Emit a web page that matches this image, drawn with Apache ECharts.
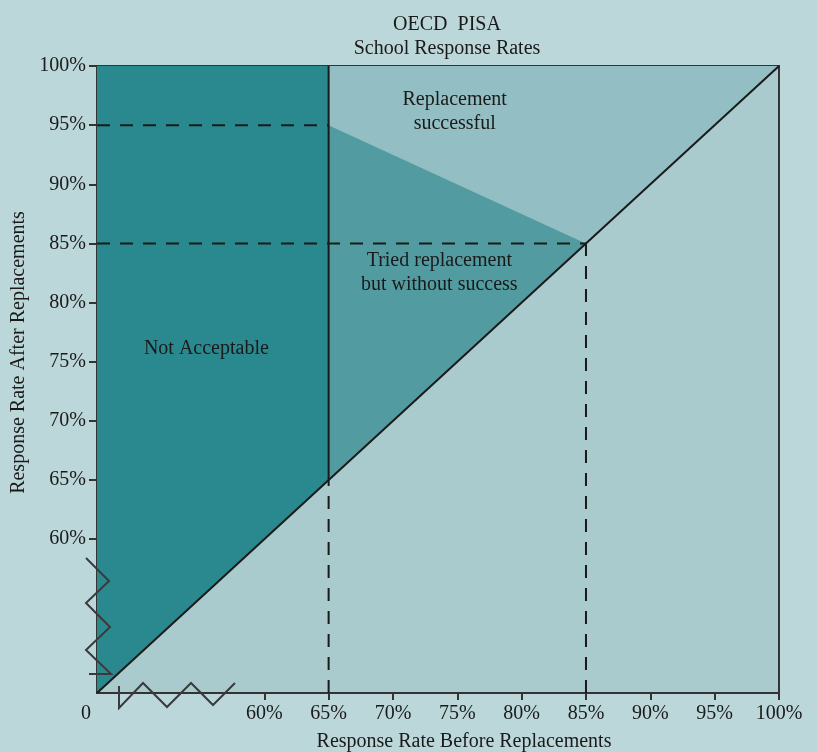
<!DOCTYPE html>
<html>
<head>
<meta charset="utf-8">
<script src="https://cdn.jsdelivr.net/npm/echarts@6/dist/echarts.min.js"></script>
<style>
html,body{margin:0;padding:0;background:#bcd7da;}
#main{width:817px;height:752px;}
</style>
</head>
<body>
<div id="main"></div>
<script>
// ---- data ----
const axisMin = 47;             // value at the (broken) origin
const axisMax = 100;
const xTicks = [60, 65, 70, 75, 80, 85, 90, 95, 100];
const yTicks = [60, 65, 70, 75, 80, 85, 90, 95, 100];
const minBefore = 65;           // minimum acceptable rate before replacement
const okBefore = 85;            // fully acceptable rate before replacement
const okAfterAtMin = 95;        // required rate after replacement when before = 65
const okAfter = 85;             // required rate after replacement when before = 85
const regionNames = ['Not Acceptable', 'Replacement successful', 'Tried replacement but without success'];
const regionColors = ['#2a898f', '#93bfc4', '#529ca1'];
const regionPolys = [
  [[axisMin, axisMin], [axisMin, axisMax], [minBefore, axisMax], [minBefore, minBefore]],
  [[minBefore, axisMax], [axisMax, axisMax], [okBefore, okAfter], [minBefore, okAfterAtMin]],
  [[minBefore, okAfterAtMin], [okBefore, okAfter], [minBefore, minBefore]]
];
const labelTexts = ['Not Acceptable', 'Replacement\nsuccessful', 'Tried replacement\nbut without success'];
const labelPos = [[55.5, 76.1], [74.8, 96.1], [73.6, 82.5]];

const ink = '#1a1a1a';
const font = '"Liberation Serif", "DejaVu Serif", serif';
const fs = 20;

const chart = echarts.init(document.getElementById('main'), null, {renderer: 'canvas'});

function lineSeries(data, dashed) {
  return {
    type: 'line', data: data, symbol: 'none', silent: true, z: 5,
    lineStyle: {color: ink, width: 2, type: dashed ? [13, 10] : 'solid'}
  };
}

const option = {
  backgroundColor: '#bcd7da',
  animation: false,
  title: {
    text: 'OECD  PISA\nSchool Response Rates',
    left: 442, top: 8, textAlign: 'center',
    textStyle: {fontFamily: font, fontSize: fs, fontWeight: 'normal', color: ink, lineHeight: 24}
  },
  grid: {
    left: 97, top: 66, right: 38, bottom: 59,
    outerBoundsMode: 'none', containLabel: false,
    show: true, backgroundColor: '#a9cbce', borderColor: '#333', borderWidth: 2
  },
  xAxis: {
    type: 'value', min: axisMin, max: axisMax,
    name: 'Response Rate Before Replacements', nameLocation: 'middle', nameGap: 39,
    nameTextStyle: {fontFamily: font, fontSize: fs, color: ink, padding: [0, 0, 0, 52]},
    axisLine: {show: true, lineStyle: {color: '#333', width: 2}},
    axisTick: {show: true, customValues: xTicks, length: 7, lineStyle: {color: '#333', width: 2}},
    axisLabel: {customValues: xTicks, formatter: v => v + '%', fontFamily: font, fontSize: fs, color: ink, margin: 11},
    splitLine: {show: false}
  },
  yAxis: {
    type: 'value', min: axisMin, max: axisMax,
    name: 'Response Rate After Replacements', nameLocation: 'middle', nameGap: 67, nameRotate: 90,
    nameTextStyle: {fontFamily: font, fontSize: fs, color: ink, padding: [0, 0, 0, 54]},
    axisLine: {show: true, lineStyle: {color: '#333', width: 2}},
    axisTick: {show: true, customValues: yTicks, length: 8, lineStyle: {color: '#333', width: 2}},
    axisLabel: {customValues: yTicks, formatter: v => v + '%', fontFamily: font, fontSize: fs, color: ink, margin: 11},
    splitLine: {show: false}
  },
  series: [
    {
      type: 'custom', silent: true, z: 1,
      data: regionPolys.map((p, i) => ({name: regionNames[i], value: [i]})),
      encode: {x: [], y: []},
      renderItem: function (params, api) {
        const i = params.dataIndex;
        return {
          type: 'polygon',
          shape: {points: regionPolys[i].map(p => api.coord(p))},
          style: {fill: regionColors[i], stroke: null}
        };
      }
    },
    lineSeries([[axisMin, okAfterAtMin], [minBefore, okAfterAtMin]], true),
    lineSeries([[axisMin, okAfter], [okBefore, okAfter]], true),
    lineSeries([[minBefore, axisMin], [minBefore, minBefore]], true),
    lineSeries([[okBefore, axisMin], [okBefore, okAfter]], true),
    lineSeries([[minBefore, minBefore], [minBefore, axisMax]], false),
    lineSeries([[axisMin, axisMin], [axisMax, axisMax]], false),
    {
      type: 'scatter', symbolSize: 0, silent: true, z: 6,
      data: labelPos.map((p, i) => ({value: p, label: {formatter: labelTexts[i]}})),
      label: {show: true, position: 'inside', fontFamily: font, fontSize: fs, lineHeight: 24, color: ink, opacity: 1}
    }
  ]
};
chart.setOption(option);

// axis-break marks and origin label, placed relative to the origin pixel
const o = chart.convertToPixel({gridIndex: 0}, [axisMin, axisMin]);
const yBreak = [[-11, -135], [12, -112], [-11, -90], [13, -66], [-11, -43], [14, -19], [-8, -19]];
const xBreak = [[22, -7], [22, 15], [46, -10], [70, 14], [94, -10], [116, 12], [138, -10]];
chart.setOption({
  graphic: [
    {type: 'polyline', z: 20, shape: {points: yBreak.map(p => [o[0] + p[0], o[1] + p[1]])},
     style: {stroke: '#3a3a3a', lineWidth: 2, fill: null}},
    {type: 'polyline', z: 20, shape: {points: xBreak.map(p => [o[0] + p[0], o[1] + p[1]])},
     style: {stroke: '#3a3a3a', lineWidth: 2, fill: null}},
    {type: 'text', z: 20, x: o[0] - 11, y: o[1] + 21,
     style: {text: '0', font: fs + 'px ' + font, fill: ink, align: 'center', verticalAlign: 'middle'}}
  ]
});
</script>
</body>
</html>
